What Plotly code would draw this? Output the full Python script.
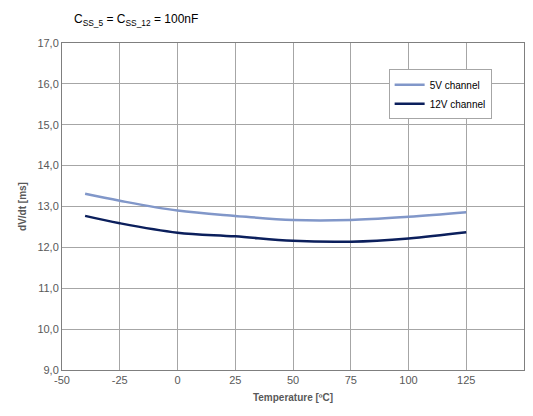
import plotly.graph_objects as go

temps = [-40, -25, 0, 25, 50, 75, 100, 125]
v5 = [13.31, 13.14, 12.90, 12.77, 12.67, 12.67, 12.75, 12.86]
v12 = [12.77, 12.59, 12.36, 12.27, 12.16, 12.14, 12.22, 12.37]

xticks = [-50, -25, 0, 25, 50, 75, 100, 125, 150]
xticklabels = ["-50", "-25", "0", "25", "50", "75", "100", "125", "150"]
yticks = [9, 10, 11, 12, 13, 14, 15, 16, 17]
yticklabels = ["9,0", "10,0", "11,0", "12,0", "13,0", "14,0", "15,0", "16,0", "17,0"]

fig = go.Figure()
fig.add_trace(go.Scatter(x=temps, y=v5, mode="lines", name="5V channel",
                         line=dict(color="#8197c9", width=2.5, shape="spline", smoothing=1.0)))
fig.add_trace(go.Scatter(x=temps, y=v12, mode="lines", name="12V channel",
                         line=dict(color="#0b1f5c", width=2.5, shape="spline", smoothing=1.0)))

axis_common = dict(showgrid=True, gridcolor="#a6a6a6", gridwidth=1,
                   showline=True, linecolor="#7f7f7f", linewidth=1, mirror=True,
                   zeroline=False, ticks="",
                   tickfont=dict(family="Liberation Sans, Arial", size=11, color="#595959"))

fig.update_layout(
    width=533, height=416,
    margin=dict(l=62, r=9, t=43, b=46),
    paper_bgcolor="white", plot_bgcolor="white",
    showlegend=True,
    legend=dict(x=0.707, y=0.92, xanchor="left", yanchor="top",
                bgcolor="white", bordercolor="#a6a6a6", borderwidth=1,
                font=dict(family="Liberation Sans, Arial", size=10, color="#000000"),
                tracegroupgap=4, itemwidth=30),
    xaxis=dict(range=[-50, 150], tickvals=xticks, ticktext=xticklabels, **axis_common,
               title=dict(text="<b>Temperature [ºC]</b>", standoff=8,
                          font=dict(family="Liberation Sans, Arial", size=10, color="#595959"))),
    yaxis=dict(range=[9, 17], tickvals=yticks, ticktext=yticklabels, **axis_common,
               title=dict(text="<b>dV/dt [ms]</b>", standoff=8,
                          font=dict(family="Liberation Sans, Arial", size=10, color="#595959"))),
    annotations=[dict(text="C<sub>SS_5</sub> = C<sub>SS_12</sub> = 100nF",
                      x=(72 - 62) / (533 - 62 - 9), y=1 + (43 - 20) / (416 - 43 - 46),
                      xref="paper", yref="paper", showarrow=False, xanchor="left", yanchor="middle",
                      font=dict(family="Liberation Sans, Arial", size=12, color="#000000"))],
)

fig.write_html("out.html")
